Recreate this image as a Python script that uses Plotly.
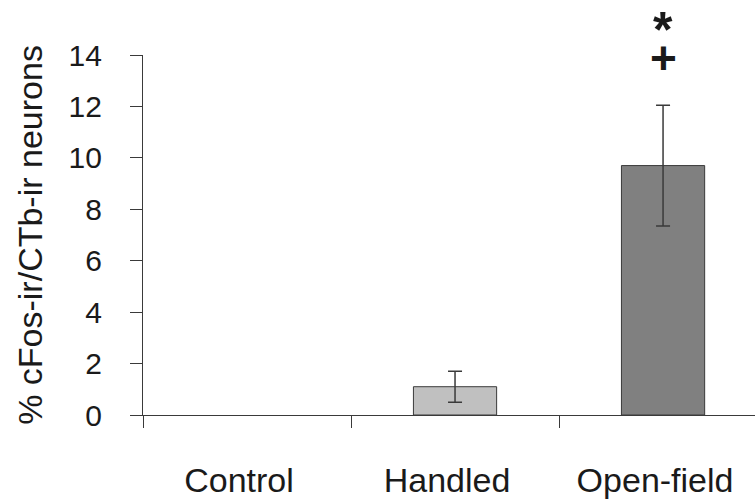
import plotly.graph_objects as go

# Group means and standard errors of double-labelled neurons
groups = ["Control", "Handled", "Open-field"]
pct_double = [0.0, 1.1, 9.7]
sem = [0.0, 0.6, 2.35]
bar_colors = ["#c0c0c0", "#c0c0c0", "#808080"]
outline_widths = [0, 1, 1]
y_ticks = [0, 2, 4, 6, 8, 10, 12, 14]

FONT = "Liberation Sans, Arial, sans-serif"
INK = "#1a1a1a"
LINE = "#3a3a3a"

fig = go.Figure()
fig.add_trace(go.Bar(
    x=groups,
    y=pct_double,
    width=0.40,
    marker=dict(color=bar_colors, line=dict(color=LINE, width=outline_widths)),
    showlegend=False,
    hoverinfo="x+y",
))

# Error bars only where a spread was measured (Control has none)
with_err = [i for i, s in enumerate(sem) if s > 0]
fig.add_trace(go.Scatter(
    x=[groups[i] for i in with_err],
    y=[pct_double[i] for i in with_err],
    mode="markers", marker=dict(size=1, opacity=0),
    error_y=dict(type="data", array=[sem[i] for i in with_err], visible=True,
                 color=LINE, thickness=1.5, width=7),
    showlegend=False, hoverinfo="skip",
))

# Significance markers above the open-field bar
fig.add_annotation(x="Open-field", y=1.152, xref="x", yref="paper", text="<b>*</b>",
                   showarrow=False, font=dict(family=FONT, size=50, color=INK),
                   height=34, valign="top", yanchor="top", xanchor="center")
fig.add_annotation(x="Open-field", y=0.992, xref="x", yref="paper", text="<b>+</b>",
                   showarrow=False, font=dict(family=FONT, size=46, color=INK),
                   height=40, valign="middle", yanchor="middle", xanchor="center")

fig.update_layout(
    width=755, height=500,
    margin=dict(l=143, r=0, t=55, b=85),
    plot_bgcolor="white", paper_bgcolor="white",
    font=dict(family=FONT, color=INK),
)
fig.update_xaxes(
    type="category", range=[-0.5, 2.442],
    showline=True, linecolor=LINE, linewidth=1.2,
    ticks="outside", tickson="boundaries", ticklen=12, tickwidth=1.2, tickcolor=LINE,
    tickfont=dict(family=FONT, size=34, color=INK),
    ticklabelstandoff=35, ticklabelshift=-8,
    showgrid=False, zeroline=False,
)
fig.update_yaxes(
    range=[0, 14], tickvals=y_ticks,
    showline=True, linecolor=LINE, linewidth=1.2,
    ticks="outside", ticklen=12, tickwidth=1.2, tickcolor=LINE,
    tickfont=dict(family=FONT, size=30, color=INK),
    ticklabelstandoff=22,
    title=dict(text="% cFos-ir/CTb-ir neurons", font=dict(family=FONT, size=34, color=INK),
               standoff=15),
    showgrid=False, zeroline=False,
)

fig.write_html("out.html")
